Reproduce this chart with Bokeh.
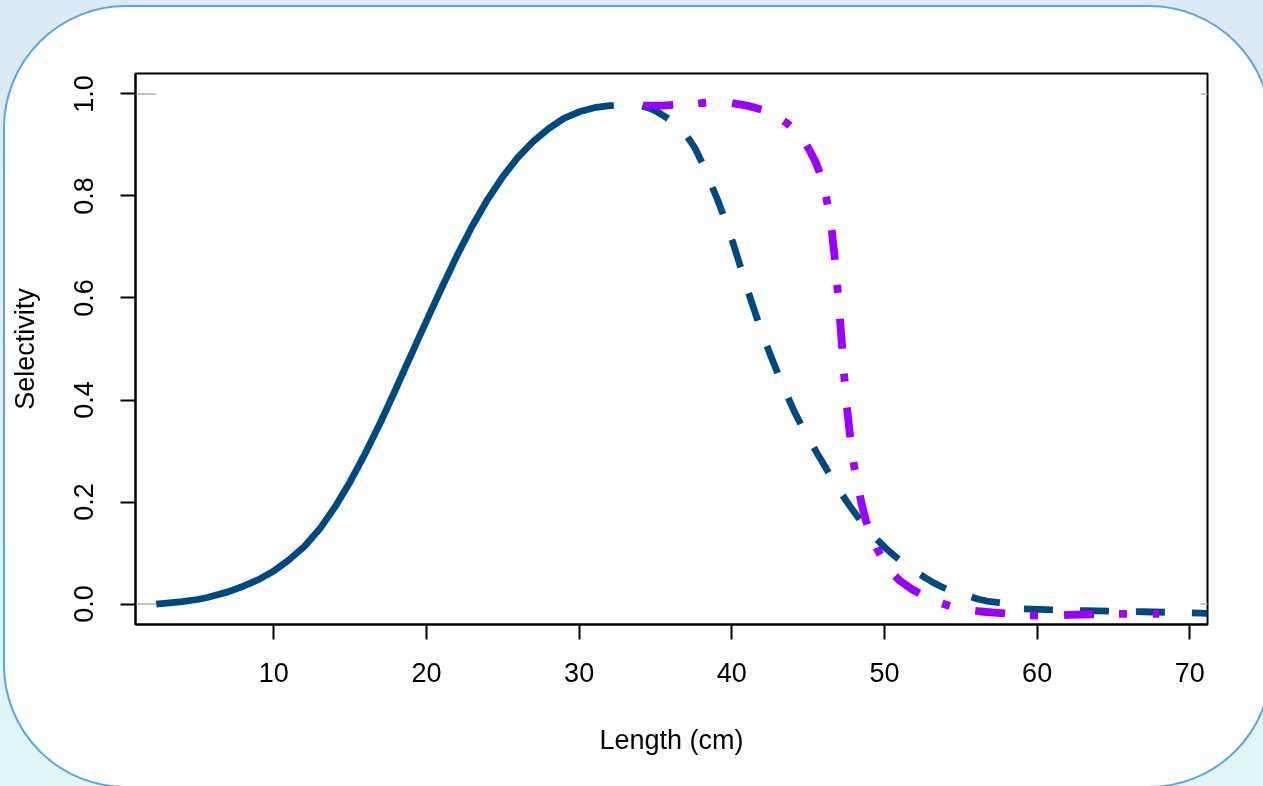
from bokeh.plotting import figure
from bokeh.models import Range1d, FixedTicker, PrintfTickFormatter, GlobalInlineStyleSheet
from bokeh.embed import file_html
from bokeh.resources import INLINE

# ---- data ----
solid_x = [2.3, 3, 4, 5, 5.64, 6, 7, 7.82, 8, 9, 10, 11, 12, 13, 14, 15, 16, 17, 18, 19, 20,
           21, 22, 23, 24, 25, 26, 27, 28, 29, 30, 31, 32, 32.27]
solid_y = [0.0, 0.002, 0.005, 0.009, 0.013, 0.016, 0.024, 0.033, 0.035, 0.048, 0.065, 0.087, 0.113,
           0.147, 0.190, 0.240, 0.296, 0.357, 0.422, 0.489, 0.555, 0.620, 0.683, 0.741, 0.793, 0.838,
           0.876, 0.907, 0.932, 0.952, 0.965, 0.973, 0.977, 0.977]

dash_x = [34.13, 34.6, 35.1, 35.6, 36.1, 36.6, 37.1, 37.6, 38.1, 38.6, 39.1, 39.6, 40.1, 40.6, 41.1,
          41.6, 42.1, 42.6, 43.1, 43.6, 44.1, 44.6, 45.1, 45.6, 46.1, 46.6, 47.1, 47.6, 48.1, 48.6,
          49.1, 49.6, 50.1, 50.6, 51.1, 51.6, 52.1, 52.6, 53.1, 53.6, 54.1, 54.6, 55.1, 55.6, 56.1,
          56.7, 57.5, 58.6, 58.7, 60.6, 63.2, 66.9, 71.16]
dash_y = [0.976, 0.972, 0.965, 0.956, 0.946, 0.933, 0.916, 0.893, 0.862, 0.826, 0.790, 0.750, 0.706,
          0.658, 0.610, 0.565, 0.522, 0.483, 0.446, 0.411, 0.377, 0.348, 0.321, 0.295, 0.270, 0.244,
          0.220, 0.198, 0.177, 0.157, 0.140, 0.124, 0.109, 0.096, 0.084, 0.073, 0.063, 0.053, 0.044,
          0.036, 0.029, 0.023, 0.019, 0.015, 0.010, 0.006, 0.003, -0.001, -0.009, -0.011, -0.013,
          -0.015, -0.018]

dd_x = [34.2, 35.5, 37.0, 38.5, 40.0, 41.0, 42.0, 42.8, 43.6, 44.2, 44.7, 45.1, 45.5, 45.8, 46.1,
        46.35, 46.55, 46.75, 46.9, 47.05, 47.2, 47.35, 47.5, 47.7, 47.95, 48.2, 48.5, 48.8, 49.1,
        49.5, 50.0, 50.5, 51.0, 51.8, 52.6, 53.5, 54.5, 55.4, 56.5, 57.4, 59.2, 60.5, 62.1, 65.0, 68.0]
dd_y = [0.977, 0.977, 0.980, 0.983, 0.982, 0.977, 0.969, 0.958, 0.943, 0.926, 0.909, 0.889, 0.866,
        0.842, 0.810, 0.772, 0.731, 0.677, 0.627, 0.572, 0.515, 0.452, 0.398, 0.342, 0.281, 0.240,
        0.197, 0.162, 0.136, 0.109, 0.082, 0.061, 0.046, 0.029, 0.016, 0.004, -0.006, -0.012, -0.015,
        -0.017, -0.022, -0.023, -0.021, -0.019, -0.019]

ref_levels = [0.0, 1.0]
x_ticks = [10, 20, 30, 40, 50, 60, 70]
y_ticks = [0.0, 0.2, 0.4, 0.6, 0.8, 1.0]
x_lim = (0.94, 71.16)
y_lim = (-0.04, 1.04)
right_gap_start = 70.7

BLUE = "#00497F"
PURPLE = "#9A00FF"
FONT = "Liberation Sans"

page_css = GlobalInlineStyleSheet(css="""
html { background: linear-gradient(to bottom, #DCE9F6 0%, #DFF0F6 55%, #E0F6F5 100%); min-height: 100%; overflow: hidden; }
body { overflow: hidden; }
body::before { content: ""; position: fixed; left: 3px; top: 5px; width: 1265px; height: 779px;
  background: #ffffff; border: 2px solid #5BA4DD; border-radius: 123px; z-index: -1; }
""")

W, H = 1247, 770
p = figure(width=W, height=H, output_backend="svg", toolbar_location=None,
           x_range=Range1d(*x_lim), y_range=Range1d(*y_lim),
           min_border_left=135, min_border_right=W - 1207, min_border_top=73, min_border_bottom=H - 624)
p.stylesheets = [page_css]

p.border_fill_color = None
p.background_fill_color = "white"
p.outline_line_color = "black"
p.outline_line_width = 2
p.outline_line_alpha = 1
p.grid.visible = False

# grey reference stubs visible at the plot edges
for lv in ref_levels:
    p.line([x_lim[0], solid_x[0]], [lv, lv], line_color="#C4C4C4", line_width=2)
    p.line([right_gap_start, x_lim[1]], [lv, lv], line_color="#C4C4C4", line_width=2)

p.line(solid_x, solid_y, line_color=BLUE, line_width=6.8, line_cap="butt", line_join="round")
p.line(dash_x, dash_y, line_color=BLUE, line_width=6.8, line_dash="29 27", line_cap="butt", line_join="round")
p.line(dd_x, dd_y, line_color=PURPLE, line_width=7.8, line_dash="30 25 8 26", line_cap="butt", line_join="round")

for ax in (p.xaxis[0], p.yaxis[0]):
    ax.axis_line_color = "black"
    ax.axis_line_width = 2
    ax.major_tick_out = 15
    ax.major_tick_in = 0
    ax.major_tick_line_width = 2
    ax.major_tick_line_color = "black"
    ax.minor_tick_line_color = None
    ax.major_label_text_font = FONT
    ax.major_label_text_font_size = "27px"
    ax.major_label_text_color = "black"
    ax.axis_label_text_font = FONT
    ax.axis_label_text_font_size = "27px"
    ax.axis_label_text_font_style = "normal"
    ax.axis_label_text_color = "black"

p.xaxis.ticker = FixedTicker(ticks=x_ticks)
p.yaxis.ticker = FixedTicker(ticks=y_ticks)
p.yaxis.formatter = PrintfTickFormatter(format="%.1f")
p.yaxis.major_label_orientation = "vertical"
p.xaxis.axis_label = "Length (cm)"
p.yaxis.axis_label = "Selectivity"
p.xaxis.major_label_standoff = 23
p.xaxis.axis_label_standoff = 40
p.yaxis.major_label_standoff = 27
p.yaxis.axis_label_standoff = 32

open("out.html", "w").write(file_html(p, INLINE))
